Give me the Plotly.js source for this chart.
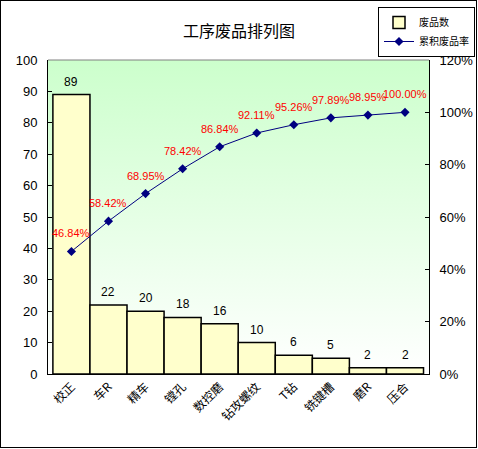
<!DOCTYPE html>
<html><head><meta charset="utf-8">
<script src="https://cdn.plot.ly/plotly-3.0.1.min.js"></script>
<style>
html,body{margin:0;padding:0;background:#fff;}
#wrap{position:relative;width:478px;height:449px;}
#chart{width:478px;height:449px;}
#frame{position:absolute;left:0;top:0;width:477px;height:448px;border:1px solid #000;box-sizing:border-box;pointer-events:none;}
</style>
</head><body>
<div id="wrap"><div id="chart"></div><div id="frame"></div></div>
<script>
const categories = ['校正','车R','精车','镗孔','数控磨','钻攻螺纹','T钻','铣键槽','磨R','压合'];
const defects = [89,22,20,18,16,10,6,5,2,2];
const cumulativePct = [46.84,58.42,68.95,78.42,86.84,92.11,95.26,97.89,98.95,100.00];
const leftTicks = [0,10,20,30,40,50,60,70,80,90,100];
const rightTicks = [0,20,40,60,80,100,120];
const rightTickLabels = ['0%','20%','40%','60%','80%','100%','120%'];

const FONT = 'Liberation Sans, Arial, Noto Sans CJK SC, sans-serif';
const CJK = 'Noto Sans CJK SC, sans-serif';
const grad = 'data:image/svg+xml;utf8,' + encodeURIComponent(
 '<svg xmlns="http://www.w3.org/2000/svg" width="100" height="100" preserveAspectRatio="none">' +
 '<defs><linearGradient id="g" x1="0" y1="0" x2="0" y2="1">' +
 '<stop offset="0" stop-color="#ccffcc"/><stop offset="1" stop-color="#ffffff"/></linearGradient></defs>' +
 '<rect width="100" height="100" fill="url(#g)"/></svg>');

const traces = [
 {type:'bar', name:'废品数', x:categories, y:defects,
  marker:{color:'#ffffcc', line:{color:'#000', width:1.5}}},
 {type:'scatter', mode:'lines+markers', name:'累积废品率', x:categories, y:cumulativePct, yaxis:'y2',
  line:{color:'#000080', width:1}, marker:{symbol:'diamond', size:7, color:'#000080'}}
];

const annotations = [];
categories.forEach((c,i)=>{
 annotations.push({x:c, y:defects[i], xref:'x', yref:'y', text:String(defects[i]), showarrow:false,
  yanchor:'middle', yshift:13, font:{family:FONT, size:12, color:'#000'}});
 annotations.push({x:c, y:cumulativePct[i], xref:'x', yref:'y2', text:cumulativePct[i].toFixed(2)+'%', showarrow:false,
  yanchor:'middle', yshift:18, font:{family:FONT, size:11, color:'#ff0000'}});
});

const layout = {
 width:478, height:449,
 margin:{l:48, r:49, t:60, b:75, autoexpand:false},
 paper_bgcolor:'rgba(0,0,0,0)', plot_bgcolor:'rgba(0,0,0,0)',
 font:{family:FONT, size:12, color:'#000'},
 title:{text:'工序废品排列图', font:{family:CJK, size:16, color:'#000'},
  x:0.5, xanchor:'center', y:0.93, yanchor:'middle'},
 bargap:0,
 showlegend:true,
 legend:{xref:'container', yref:'container', x:378/478, y:1-7/449, xanchor:'left', yanchor:'top',
  bgcolor:'#fff', bordercolor:'#000', borderwidth:1, font:{family:CJK, size:10},
  tracegroupgap:0, itemwidth:30},
 xaxis:{type:'category', showline:true, linecolor:'#000', linewidth:1, ticks:'', showgrid:false,
  tickangle:-45, tickfont:{family:CJK, size:12}, zeroline:false},
 yaxis:{range:[0,100], tickvals:leftTicks, showline:true, linecolor:'#000', linewidth:1,
  ticks:'inside', ticklen:4, tickcolor:'#000', showgrid:false, zeroline:false, tickfont:{size:13},
  ticklabelstandoff:7},
 yaxis2:{range:[0,120], tickvals:rightTicks, ticktext:rightTickLabels, overlaying:'y', side:'right',
  showline:true, linecolor:'#000', linewidth:1, ticks:'inside', ticklen:4, tickcolor:'#000',
  showgrid:false, zeroline:false, tickfont:{size:13}, ticklabelstandoff:7},
 annotations:annotations,
 images:[{source:grad, xref:'paper', yref:'paper', x:0, y:1, sizex:1, sizey:1,
  sizing:'stretch', layer:'below', xanchor:'left', yanchor:'top'}],
 shapes:[{type:'line', xref:'paper', yref:'paper', x0:0, x1:1, y0:1, y1:1, line:{color:'#808080', width:1}}]
};
Plotly.newPlot('chart', traces, layout, {displayModeBar:false, staticPlot:true});
</script>
</body></html>
